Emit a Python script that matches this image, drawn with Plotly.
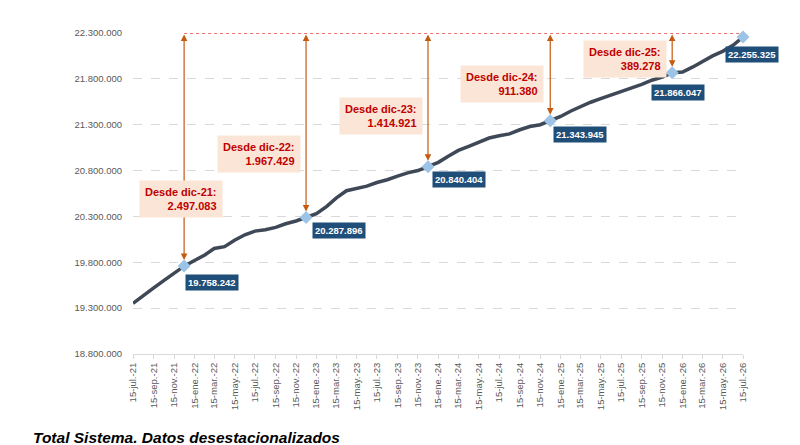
import plotly.graph_objects as go

# Afiliados, total sistema, datos desestacionalizados (mensual, dia 15)
dates = [
    '2021-07-15', '2021-08-15', '2021-09-15', '2021-10-15', '2021-11-15', '2021-12-15',
    '2022-01-15', '2022-02-15', '2022-03-15', '2022-04-15', '2022-05-15', '2022-06-15',
    '2022-07-15', '2022-08-15', '2022-09-15', '2022-10-15', '2022-11-15', '2022-12-15',
    '2023-01-15', '2023-02-15', '2023-03-15', '2023-04-15', '2023-05-15', '2023-06-15',
    '2023-07-15', '2023-08-15', '2023-09-15', '2023-10-15', '2023-11-15', '2023-12-15',
    '2024-01-15', '2024-02-15', '2024-03-15', '2024-04-15', '2024-05-15', '2024-06-15',
    '2024-07-15', '2024-08-15', '2024-09-15', '2024-10-15', '2024-11-15', '2024-12-15',
    '2025-01-15', '2025-02-15', '2025-03-15', '2025-04-15', '2025-05-15', '2025-06-15',
    '2025-07-15', '2025-08-15', '2025-09-15', '2025-10-15', '2025-11-15', '2025-12-15',
    '2026-01-15', '2026-02-15', '2026-03-15', '2026-04-15', '2026-05-15', '2026-06-15',
    '2026-07-15',
]
values = [
    19352000, 19440000, 19520000, 19600000, 19680000, 19758242,
    19820000, 19880000, 19950000, 19970000, 20040000, 20100000,
    20140000, 20155000, 20180000, 20220000, 20250000, 20287896,
    20330000, 20410000, 20500000, 20580000, 20605000, 20630000,
    20670000, 20700000, 20740000, 20775000, 20800000, 20840404,
    20890000, 20960000, 21020000, 21065000, 21110000, 21155000,
    21180000, 21200000, 21245000, 21280000, 21300000, 21343945,
    21390000, 21450000, 21500000, 21545000, 21585000, 21625000,
    21655000, 21700000, 21740000, 21785000, 21820000, 21866047,
    21875000, 21930000, 21990000, 22050000, 22100000, 22165000,
    22255325,
]

# puntos destacados (diciembres + ultimo dato)
dec_dates = ['2021-12-15', '2022-12-15', '2023-12-15', '2024-12-15', '2025-12-15']
dec_labels = ['dic-21', 'dic-22', 'dic-23', 'dic-24', 'dic-25']
last_date = '2026-07-15'

y_min, y_max, y_step = 18800000, 22300000, 500000

tick_dates = dates[::2]
tick_text = [
    '15-jul.-21', '15-sep.-21', '15-nov.-21', '15-ene.-22', '15-mar.-22', '15-may.-22',
    '15-jul.-22', '15-sep.-22', '15-nov.-22', '15-ene.-23', '15-mar.-23', '15-may.-23',
    '15-jul.-23', '15-sep.-23', '15-nov.-23', '15-ene.-24', '15-mar.-24', '15-may.-24',
    '15-jul.-24', '15-sep.-24', '15-nov.-24', '15-ene.-25', '15-mar.-25', '15-may.-25',
    '15-jul.-25', '15-sep.-25', '15-nov.-25', '15-ene.-26', '15-mar.-26', '15-may.-26',
    '15-jul.-26',
]


def fmt(v):
    return f'{v:,}'.replace(',', '.')


val_by_date = dict(zip(dates, values))
last_val = val_by_date[last_date]
mark_dates = dec_dates + [last_date]
mark_vals = [val_by_date[d] for d in mark_dates]

fig = go.Figure()

fig.add_trace(go.Scatter(
    x=dates, y=values, mode='lines',
    line=dict(color='#3e4856', width=3.5),
    showlegend=False, hoverinfo='skip',
))

# linea punteada roja al nivel superior (traza sin recorte para que se vea entera)
fig.add_trace(go.Scatter(
    x=[dec_dates[0], last_date], y=[y_max, y_max], mode='lines',
    line=dict(color='#e8403f', width=1.4, dash='dot'),
    showlegend=False, hoverinfo='skip', cliponaxis=False,
))

fig.add_trace(go.Scatter(
    x=mark_dates, y=mark_vals, mode='markers',
    marker=dict(symbol='diamond', size=10, color='#9dc3e6'),
    showlegend=False, cliponaxis=False,
))

# flechas dobles desde cada diciembre hasta el nivel superior
for d in dec_dates:
    fig.add_annotation(
        x=d, y=val_by_date[d], ax=d, ay=y_max,
        xref='x', yref='y', axref='x', ayref='y',
        text='', showarrow=True,
        arrowhead=2, arrowsize=1.1, arrowwidth=1.2, arrowcolor='#c55a11',
        arrowside='end+start', standoff=6, startstandoff=0,
    )

# cajas "Desde dic-XX"
box_y = [20490000, 20980000, 21395000, 21744000, 22016000]
box_xshift = [39, -5, -5, -6, -5]
for d, lab, by, xs in zip(dec_dates, dec_labels, box_y, box_xshift):
    fig.add_annotation(
        x=d, y=by, xref='x', yref='y',
        text=f'<b>Desde {lab}:<br>{fmt(last_val - val_by_date[d])}</b>',
        showarrow=False, xanchor='right', yanchor='middle', xshift=xs,
        align='right', bgcolor='#fbe5d6', borderpad=5,
        font=dict(family='Liberation Sans', size=11, color='#c00000'),
    )

# etiquetas de valor
lab_shift = [(28, -16), (33, -13), (31, -13), (30, -14), (6, -20), (9, -17)]
for d, v, (xs, ys) in zip(mark_dates, mark_vals, lab_shift):
    fig.add_annotation(
        x=d, y=v, xref='x', yref='y',
        text=f'<b>{fmt(v)}</b>', showarrow=False,
        xshift=xs, yshift=ys, bgcolor='#1f4e79', borderpad=2,
        font=dict(family='Liberation Sans', size=9.5, color='white'),
    )

fig.add_annotation(
    text='<b><i>Total Sistema. Datos desestacionalizados</i></b>',
    xref='paper', yref='paper', x=-0.167, y=-0.259,
    xanchor='left', yanchor='middle', showarrow=False,
    font=dict(family='Liberation Sans', size=15.5, color='black'),
)

# la pagina tiene 8px de margen en body: se compensa en tamano y margenes
fig.update_layout(
    width=792, height=437,
    margin=dict(l=125, r=57, t=25, b=91),
    plot_bgcolor='white', paper_bgcolor='white',
    separators=',.',
    xaxis=dict(
        type='date', range=[dates[0], dates[-1]],
        tickvals=tick_dates, ticktext=tick_text, tickangle=-90,
        tickfont=dict(family='Liberation Sans', size=9.5, color='#595959'),
        showgrid=False, showline=True, linecolor='#d9d9d9', linewidth=1,
        ticks='outside', ticklen=4, tickcolor='#d9d9d9',
    ),
    yaxis=dict(
        range=[y_min, y_max], dtick=y_step, tick0=y_min,
        tickformat=',d',
        tickfont=dict(family='Liberation Sans', size=9.5, color='#595959'),
        showgrid=True, gridcolor='#d9d9d9', griddash='dash', gridwidth=1,
        zeroline=False, showline=False, ticks='', ticklabelstandoff=10,
    ),
)

fig.write_html('out.html')
